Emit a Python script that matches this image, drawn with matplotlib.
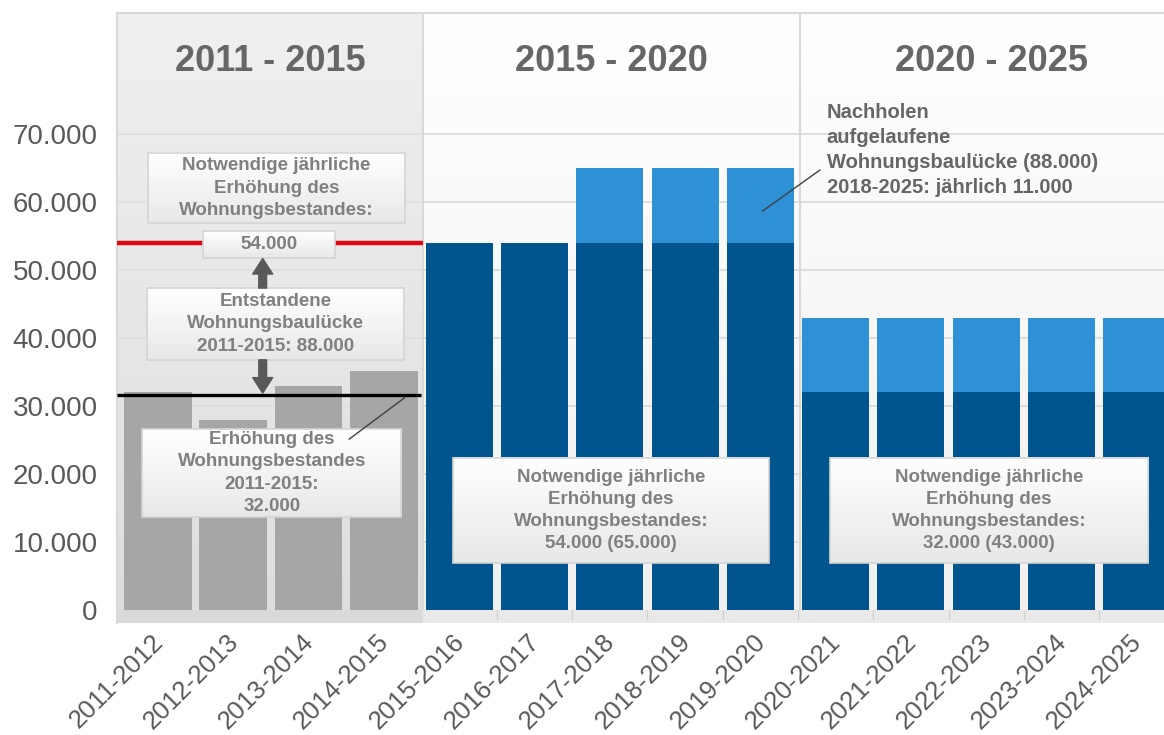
import matplotlib
matplotlib.use('Agg')
import matplotlib.pyplot as plt
import numpy as np
from matplotlib.colors import LinearSegmentedColormap
from matplotlib.patches import Rectangle
from matplotlib.ticker import FuncFormatter
from matplotlib.transforms import ScaledTranslation

plt.rcParams['font.family'] = ['Liberation Sans', 'DejaVu Sans']

# data
periods = ['2011-2012', '2012-2013', '2013-2014', '2014-2015', '2015-2016',
           '2016-2017', '2017-2018', '2018-2019', '2019-2020', '2020-2021',
           '2021-2022', '2022-2023', '2023-2024', '2024-2025']
past_increase = [32000, 28000, 33000, 35200]
required_base = [54000, 54000, 54000, 54000, 54000,
                 32000, 32000, 32000, 32000, 32000]
catch_up = [0, 0, 11000, 11000, 11000,
            11000, 11000, 11000, 11000, 11000]
required_level = 54000
actual_level = 31700
section_labels = ['2011 - 2015', '2015 - 2020', '2020 - 2025']
section_edges = [-0.545, 3.52, 8.53, 13.6]

GRAY = '#a6a6a6'
DARK = '#00558f'
LIGHT = '#2e91d6'
TXT = '#666666'
BOXTXT = '#808080'

fig = plt.figure(figsize=(11.64, 7.35), dpi=100)
ax = fig.add_axes([117 / 1164, 112 / 735, (1182 - 117) / 1164, 610 / 735])
ymin, ymax = -1900, 87800


def gradient(x0, x1, y0, y1, top, bottom, z):
    cmap = LinearSegmentedColormap.from_list('g', [bottom, top])
    g = np.linspace(0, 1, 256).reshape(-1, 1)
    ax.imshow(g, extent=[x0, x1, y0, y1], origin='lower', aspect='auto',
              cmap=cmap, zorder=z, interpolation='bilinear')


# backgrounds
gradient(section_edges[0], section_edges[1], 0, ymax, '#f0f0f0', '#dedede', 0)
gradient(section_edges[1], section_edges[3], 0, ymax, '#ffffff', '#f0f0f0', 0)

# grid
for v in range(10000, 80000, 10000):
    ax.hlines(v, section_edges[0], section_edges[1], color='#dedede', lw=1.2, zorder=1)
    ax.hlines(v, section_edges[1], section_edges[3], color='#d9d9d9', lw=1.2, zorder=1)
for xe in section_edges[1:3]:
    ax.vlines(xe, ymin, ymax, color='#d9d9d9', lw=1.5, zorder=1)

# floor
ax.add_patch(Rectangle((section_edges[0], ymin), section_edges[1] - section_edges[0],
                       -ymin, color='#d9d9d9', zorder=1))
ax.add_patch(Rectangle((section_edges[1], ymin), section_edges[3] - section_edges[1],
                       -ymin, color='#e9e9e9', zorder=1))
ax.vlines(np.arange(4.5, 13.5, 1), -1500, 0, color='#d2d2d2', lw=1, zorder=1.5)

x = np.arange(len(periods))
ax.bar(x[:4], past_increase, width=0.9, color=GRAY, zorder=2)
ax.bar(x[4:], required_base, width=0.89, color=DARK, zorder=2)
ax.bar(x[4:], catch_up, width=0.89, bottom=required_base, color=LIGHT, zorder=2)

# reference lines
ax.hlines(required_level, section_edges[0], section_edges[1], color='#e30613', lw=3.2, zorder=3)
ax.hlines(actual_level, section_edges[0], 3.49, color='black', lw=2.4, zorder=3)

# section headers
for i, lab in enumerate(section_labels):
    ax.text((section_edges[i] + section_edges[i + 1]) / 2, 80600, lab, ha='center',
            va='center', fontsize=26, fontweight='bold', color=TXT, zorder=5)


def box(x0, x1, y0, y1, text, fs=13.5):
    gradient(x0, x1, y0, y1, '#ffffff', '#e8e8e8', 4)
    ax.add_patch(Rectangle((x0, y0), x1 - x0, y1 - y0, fill=False,
                           ec='#d4d4d4', lw=1.2, zorder=4.1))
    ax.text((x0 + x1) / 2, (y0 + y1) / 2, text, ha='center', va='center',
            fontsize=fs, fontweight='bold', color=BOXTXT, linespacing=1.4, zorder=5)


box(-0.133, 3.28, 56900, 67200,
    'Notwendige jährliche\nErhöhung des\nWohnungsbestandes:')
box(0.60, 2.35, 51800, 55700, '54.000')
box(-0.146, 3.27, 36800, 47350,
    'Entstandene\nWohnungsbaulücke\n2011-2015: 88.000')
box(-0.21, 3.23, 13700, 26600,
    'Erhöhung des\nWohnungsbestandes\n2011-2015:\n32.000')
box(3.92, 8.11, 6900, 22350,
    'Notwendige jährliche\nErhöhung des\nWohnungsbestandes:\n54.000 (65.000)')
box(8.92, 13.15, 6900, 22350,
    'Notwendige jährliche\nErhöhung des\nWohnungsbestandes:\n32.000 (43.000)')

# arrows
arrow = dict(arrowstyle='simple,head_length=0.7,head_width=0.9,tail_width=0.35',
             color='#595959', shrinkA=0, shrinkB=0, mutation_scale=16)
ax.annotate('', xy=(1.39, 51700), xytext=(1.39, 47350), arrowprops=arrow, zorder=6)
ax.annotate('', xy=(1.39, 31900), xytext=(1.39, 36800), arrowprops=arrow, zorder=6)

# leader lines
ax.plot([2.54, 3.27], [25150, 31180], color='#404040', lw=1, zorder=6)
ax.plot([8.03, 8.79], [58680, 64700], color='#404040', lw=1, zorder=6)

ax.text(8.88, 74500,
        'Nachholen\naufgelaufene\nWohnungsbaulücke (88.000)\n2018-2025: jährlich 11.000',
        ha='left', va='top', fontsize=14.5, fontweight='bold', color=TXT,
        linespacing=1.38, zorder=6)

ax.set_xlim(section_edges[0], section_edges[3])
ax.set_ylim(ymin, ymax)
ax.set_yticks(range(0, 80000, 10000))
ax.yaxis.set_major_formatter(FuncFormatter(lambda v, p: f'{int(v):,}'.replace(',', '.')))
ax.set_xticks(x)
ax.set_xticklabels(periods, rotation=45, ha='right', va='center', rotation_mode='anchor')
ax.tick_params(axis='y', length=0, pad=14, labelsize=20, labelcolor='#595959')
ax.tick_params(axis='x', length=0, pad=11, labelsize=18.5, labelcolor='#595959')
for lab in ax.get_xticklabels():
    lab.set_transform(lab.get_transform() + ScaledTranslation(1 / 72, 0, fig.dpi_scale_trans))

for s in ['right', 'bottom']:
    ax.spines[s].set_visible(False)
for s in ['top', 'left']:
    ax.spines[s].set_color('#d9d9d9')
    ax.spines[s].set_linewidth(1.5)

fig.savefig('out.png', dpi=100)
